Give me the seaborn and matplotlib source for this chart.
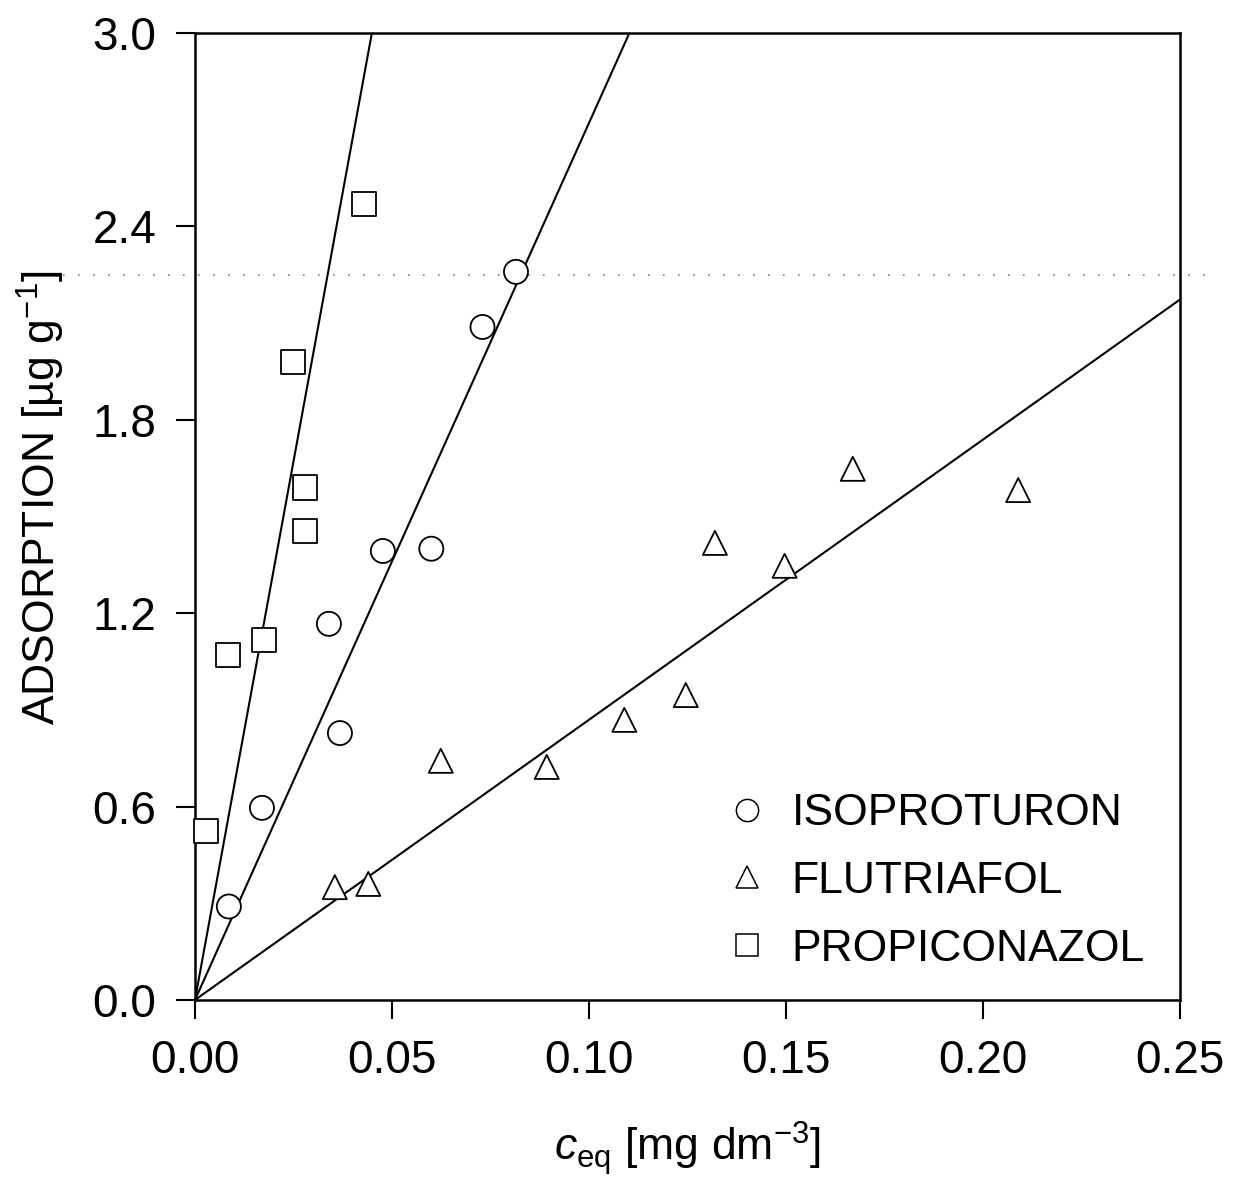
import numpy as np
import pandas as pd
import matplotlib
matplotlib.use("Agg")
import matplotlib.pyplot as plt
import seaborn as sns

# data
iso_x = [0.0086, 0.017, 0.0368, 0.034, 0.0477, 0.060, 0.073, 0.0815]
iso_y = [0.29, 0.596, 0.828, 1.167, 1.393, 1.40, 2.088, 2.259]

flu_x = [0.0355, 0.044, 0.0624, 0.0893, 0.109, 0.1246, 0.132, 0.1497, 0.167, 0.209]
flu_y = [0.35, 0.36, 0.742, 0.723, 0.869, 0.946, 1.418, 1.347, 1.648, 1.582]

pro_x = [0.0028, 0.0084, 0.0175, 0.028, 0.028, 0.025, 0.043]
pro_y = [0.524, 1.07, 1.117, 1.455, 1.59, 1.98, 2.47]

# slopes of the linear isotherms through the origin
iso_k = 27.2
flu_k = 8.69
pro_k = 66.8

names = ["ISOPROTURON", "FLUTRIAFOL", "PROPICONAZOL"]
markers = {"ISOPROTURON": "o", "FLUTRIAFOL": "^", "PROPICONAZOL": "s"}

# faint scan line
scan_y = 2.25

df = pd.concat([
    pd.DataFrame({"x": iso_x, "y": iso_y, "name": "ISOPROTURON"}),
    pd.DataFrame({"x": flu_x, "y": flu_y, "name": "FLUTRIAFOL"}),
    pd.DataFrame({"x": pro_x, "y": pro_y, "name": "PROPICONAZOL"}),
])

xs = np.array([0.0, 0.25])
fits = pd.concat([
    pd.DataFrame({"x": xs, "y": iso_k * xs, "name": "ISOPROTURON"}),
    pd.DataFrame({"x": xs, "y": flu_k * xs, "name": "FLUTRIAFOL"}),
    pd.DataFrame({"x": xs, "y": pro_k * xs, "name": "PROPICONAZOL"}),
])

sns.set_style("ticks")
plt.rcParams["font.family"] = ["Liberation Sans", "DejaVu Sans"]
plt.rcParams["mathtext.fontset"] = "custom"
plt.rcParams["mathtext.rm"] = "Liberation Sans"
plt.rcParams["mathtext.it"] = "Liberation Sans:italic"
for k in ["text.color", "axes.labelcolor", "xtick.color", "ytick.color"]:
    plt.rcParams[k] = "black"

fig = plt.figure(figsize=(12.34, 12.01), dpi=100)
ax = fig.add_axes([0.158, 0.1674, 0.798, 0.8051])

for n in names:
    sub = fits[fits["name"] == n]
    sns.lineplot(data=sub, x="x", y="y", color="black", lw=1.5, ax=ax, legend=False)

sns.scatterplot(data=df, x="x", y="y", style="name", markers=markers,
                style_order=names, s=300, facecolor="white", edgecolor="black",
                linewidth=1.3, ax=ax, zorder=3, clip_on=False)

ax.plot([-0.134, 1.038], [scan_y, scan_y], transform=ax.get_yaxis_transform(),
        color="black", lw=1.2, ls=(0, (1, 8)), alpha=0.5, clip_on=False)

ax.set_xlim(0, 0.25)
ax.set_ylim(0, 3.0)
ax.set_xticks([0.0, 0.05, 0.10, 0.15, 0.20, 0.25])
ax.set_xticklabels(["0.00", "0.05", "0.10", "0.15", "0.20", "0.25"])
ax.set_yticks([0.0, 0.6, 1.2, 1.8, 2.4, 3.0])
ax.set_yticklabels(["0.0", "0.6", "1.2", "1.8", "2.4", "3.0"])
ax.tick_params(direction="out", length=14, width=1.5, labelsize=33, pad=14)
for sp in ax.spines.values():
    sp.set_visible(True)
    sp.set_linewidth(1.8)
    sp.set_color("black")

ax.set_xlabel(r"$\mathit{c}_{\rm eq}$ [mg dm$^{-3}$]", fontsize=32, labelpad=26)
ax.set_ylabel("ADSORPTION [\u00b5g g$^{-1}$]", fontsize=32, labelpad=18)
ax.yaxis.set_label_coords(-0.13, 0.52)

handles, labels = ax.get_legend_handles_labels()
for h in handles:
    h.set_markersize(16)
    h.set_markerfacecolor("white")
    h.set_markeredgecolor("black")
    h.set_markeredgewidth(1.1)
ax.legend(handles, labels, loc="lower right", bbox_to_anchor=(1.005, -0.01),
          frameon=False, fontsize=32, handletextpad=0.5, labelspacing=0.6,
          handlelength=1.0)

fig.savefig("out.png", dpi=100)
